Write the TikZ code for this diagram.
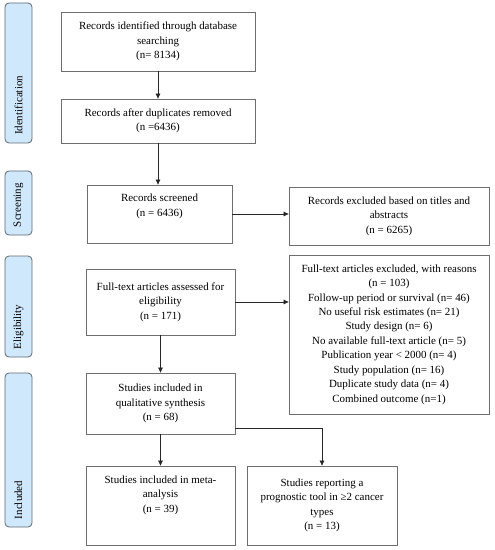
\documentclass[tikz,border=0pt]{standalone}
\usepackage{fontspec}
\setmainfont{Liberation Serif}
\usetikzlibrary{arrows.meta}
\definecolor{sidefill}{RGB}{207,232,252}
\definecolor{sidedraw}{RGB}{95,105,115}
\definecolor{boxdraw}{RGB}{110,110,110}
\begin{document}
\begin{tikzpicture}[x=1bp,y=1bp,
  box/.style={draw=boxdraw, line width=0.8bp, inner sep=0pt, align=center, font=\fontsize{11}{14.5}\selectfont},
  side/.style={draw=sidedraw, fill=sidefill, rounded corners=4bp, line width=0.8bp, rotate=90, minimum height=27bp, inner ysep=0pt, inner xsep=8bp, align=left, font=\fontsize{11}{13}\selectfont},
  arr/.style={-{Triangle[length=5bp,width=4.5bp]}, draw=black!85, line width=0.6bp}]
\useasboundingbox (0,0) rectangle (495,-550);

% side labels
\node[side, minimum width=140bp, text width=124bp] (sid) at (18.5,-73) {Identification};
\node[side, minimum width=64bp, text width=48bp] (sscr) at (18.5,-203) {Screening};
\node[side, minimum width=101bp, text width=85bp] (seli) at (18.5,-306.5) {Eligibility};
\node[side, minimum width=154bp, text width=138bp] (sinc) at (18.5,-450) {Included};

% boxes
\node[box, minimum width=194bp, minimum height=59bp] (b1) at (158,-41.5)
  {Records identified through database\\searching\\(n= 8134)};
\node[box, minimum width=194bp, minimum height=44bp] (b2) at (158,-121)
  {Records after duplicates removed\\(n =6436)};
\node[box, minimum width=145bp, minimum height=58bp] (b3) at (159.5,-214)
  {Records screened\\(n = 6436)\\[3bp]\mbox{}};
\node[box, minimum width=200bp, minimum height=58bp] (r1) at (389,-216)
  {Records excluded based on titles and\\abstracts\\(n = 6265)};
\node[box, minimum width=149bp, minimum height=66bp] (b4) at (160.5,-302)
  {Full-text articles assessed for\\eligibility\\(n = 171)};
\node[box, minimum width=200bp, minimum height=159bp] (r2) at (389,-334.5)
  {Full-text articles excluded, with reasons\\(n = 103)\\Follow-up period or survival (n= 46)\\No useful risk estimates (n= 21)\\Study design (n= 6)\\No available full-text article (n= 5)\\Publication year < 2000 (n= 4)\\Study population (n= 16)\\Duplicate study data (n= 4)\\Combined outcome (n=1)};
\node[box, minimum width=149bp, minimum height=61bp] (b5) at (160.5,-403.5)
  {Studies included in\\qualitative synthesis\\(n = 68)};
\node[box, minimum width=149bp, minimum height=79bp] (b6) at (160.5,-505.5)
  {Studies included in meta-\\analysis\\(n = 39)\\[9bp]\mbox{}};
\node[box, minimum width=150bp, minimum height=79bp] (b7) at (322,-505.5)
  {Studies reporting a\\prognostic tool in ≥2 cancer\\types\\(n = 13)};

% connectors
\draw[arr] (b1.south) -- (b2.north);
\draw[arr] (b2.south) -- (b2.south |- b3.north);
\draw[arr] (b3.east) -- (b3.east -| r1.west);
\draw[arr] (b4.east) -- (b4.east -| r2.west);
\draw[arr] (b4.south) -- (b4.south |- b5.north);
\draw[arr] (b5.south) -- (b6.north);
\coordinate (b5r) at ([yshift=6bp]b5.south east);
\draw[arr] (b5r) -| (b7.north);
\end{tikzpicture}
\end{document}
